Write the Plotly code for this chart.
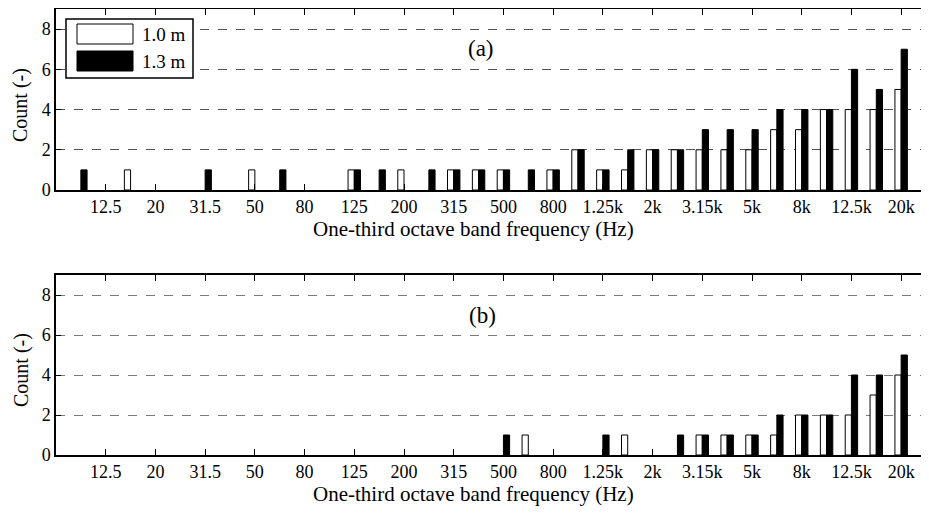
import plotly.graph_objects as go

bands = ["10", "12.5", "16", "20", "25", "31.5", "40", "50", "63", "80", "100",
         "125", "160", "200", "250", "315", "400", "500", "630", "800", "1k",
         "1.25k", "1.6k", "2k", "2.5k", "3.15k", "4k", "5k", "6.3k", "8k", "10k",
         "12.5k", "16k", "20k"]

a_10m = [0, 0, 1, 0, 0, 0, 0, 1, 0, 0, 0, 1, 0, 1, 0, 1, 1, 1, 0, 1, 2,
         1, 1, 2, 2, 2, 2, 2, 3, 3, 4, 4, 4, 5]
a_13m = [1, 0, 0, 0, 0, 1, 0, 0, 1, 0, 0, 1, 1, 0, 1, 1, 1, 1, 1, 1, 2,
         1, 2, 2, 2, 3, 3, 3, 4, 4, 4, 6, 5, 7]
b_10m = [0, 0, 0, 0, 0, 0, 0, 0, 0, 0, 0, 0, 0, 0, 0, 0, 0, 0, 1, 0, 0,
         0, 1, 0, 0, 1, 1, 1, 1, 2, 2, 2, 3, 4]
b_13m = [0, 0, 0, 0, 0, 0, 0, 0, 0, 0, 0, 0, 0, 0, 0, 0, 0, 1, 0, 0, 0,
         1, 0, 0, 1, 1, 1, 1, 2, 2, 2, 4, 4, 5]

tick_labels = ["12.5", "20", "31.5", "50", "80", "125", "200", "315", "500",
               "800", "1.25k", "2k", "3.15k", "5k", "8k", "12.5k", "20k"]
series_names = ["1.0 m", "1.3 m"]
y_ticks = [0, 2, 4, 6, 8]

idx = list(range(len(bands)))
tickvals = [bands.index(t) for t in tick_labels]

FONT = "Liberation Serif"
OFF = 8  # page body margin
W, H = 929 - OFF, 516 - OFF
L, R, T, B = 56 - OFF, 3, 9 - OFF, 61
PW, PH = W - L - R, H - T - B

def px(x):
    return (x - OFF - L) / PW

def py(y):
    return 1 - (y - OFF - T) / PH

def lw(vals):
    return [1 if v > 0 else 0 for v in vals]

fig = go.Figure()
for (vals_w, vals_b, xa, ya) in [(a_10m, a_13m, "x", "y"), (b_10m, b_13m, "x2", "y2")]:
    fig.add_trace(go.Bar(x=idx, y=vals_w, name=series_names[0], xaxis=xa, yaxis=ya,
                         marker=dict(color="white", line=dict(color="black", width=lw(vals_w))),
                         showlegend=False))
    fig.add_trace(go.Bar(x=idx, y=vals_b, name=series_names[1], xaxis=xa, yaxis=ya,
                         marker=dict(color="black", line=dict(color="black", width=lw(vals_b))),
                         showlegend=False))

dom_a = [py(190), 1]
dom_b = [0, py(275)]

xax = dict(range=[-1, 34], tickmode="array", tickvals=tickvals, ticktext=tick_labels,
           ticks="inside", ticklen=6, tickwidth=1, tickcolor="black",
           showline=True, linecolor="black", linewidth=1.5, mirror="ticks",
           showgrid=False, zeroline=False,
           tickfont=dict(family=FONT, size=18, color="black"))

def yax(domain, anchor, gridcolor):
    return dict(domain=domain, anchor=anchor, range=[0, 9], tickmode="array",
                tickvals=y_ticks, ticks="inside", ticklen=5, tickwidth=1, tickcolor="black",
                showline=True, linecolor="black", linewidth=1.5, mirror="ticks",
                showgrid=True, gridcolor=gridcolor, griddash="dash", gridwidth=1,
                zeroline=False, tickfont=dict(family=FONT, size=18, color="black"))

fig.update_layout(
    width=W, height=H,
    margin=dict(l=L, r=R, t=T, b=B, autoexpand=False),
    paper_bgcolor="white", plot_bgcolor="white",
    barmode="group", bargap=0.5, bargroupgap=0,
    xaxis=dict(xax, anchor="y"),
    xaxis2=dict(xax, anchor="y2"),
    yaxis=yax(dom_a, "x", "#555555"),
    yaxis2=yax(dom_b, "x2", "#7a7a7a"),
    showlegend=False,
)

ann = []
title_font = dict(family=FONT, size=21, color="black")
for ycen in [229, 494]:
    ann.append(dict(text="One-third octave band frequency (Hz)", xref="paper", yref="paper",
                    x=px(473), y=py(ycen), xanchor="center", yanchor="middle",
                    showarrow=False, font=title_font))
for ycen in [105, 370]:
    ann.append(dict(text="Count (-)", xref="paper", yref="paper", textangle=-90,
                    x=px(21), y=py(ycen), xanchor="center", yanchor="middle",
                    showarrow=False, font=dict(family=FONT, size=20, color="black")))
ann.append(dict(text="(a)", xref="paper", yref="paper", x=px(481), y=py(48),
                xanchor="center", yanchor="middle", showarrow=False,
                font=dict(family=FONT, size=23, color="black")))
ann.append(dict(text="(b)", xref="paper", yref="paper", x=px(482), y=py(315),
                xanchor="center", yanchor="middle", showarrow=False,
                font=dict(family=FONT, size=23, color="black")))
for name, ycen in zip(series_names, [34, 61]):
    ann.append(dict(text=name, xref="paper", yref="paper", x=px(140), y=py(ycen),
                    xanchor="left", yanchor="middle", showarrow=False,
                    font=dict(family=FONT, size=19, color="black")))

shapes = [
    dict(type="rect", xref="paper", yref="paper", x0=px(66), x1=px(193), y0=py(78), y1=py(19),
         line=dict(color="black", width=1.5), fillcolor="white", layer="above"),
    dict(type="rect", xref="paper", yref="paper", x0=px(77), x1=px(133), y0=py(44), y1=py(24),
         line=dict(color="black", width=1), fillcolor="white", layer="above"),
    dict(type="rect", xref="paper", yref="paper", x0=px(77), x1=px(133), y0=py(71), y1=py(51),
         line=dict(color="black", width=1), fillcolor="black", layer="above"),
]
fig.update_layout(annotations=ann, shapes=shapes)

fig.write_html("out.html")
